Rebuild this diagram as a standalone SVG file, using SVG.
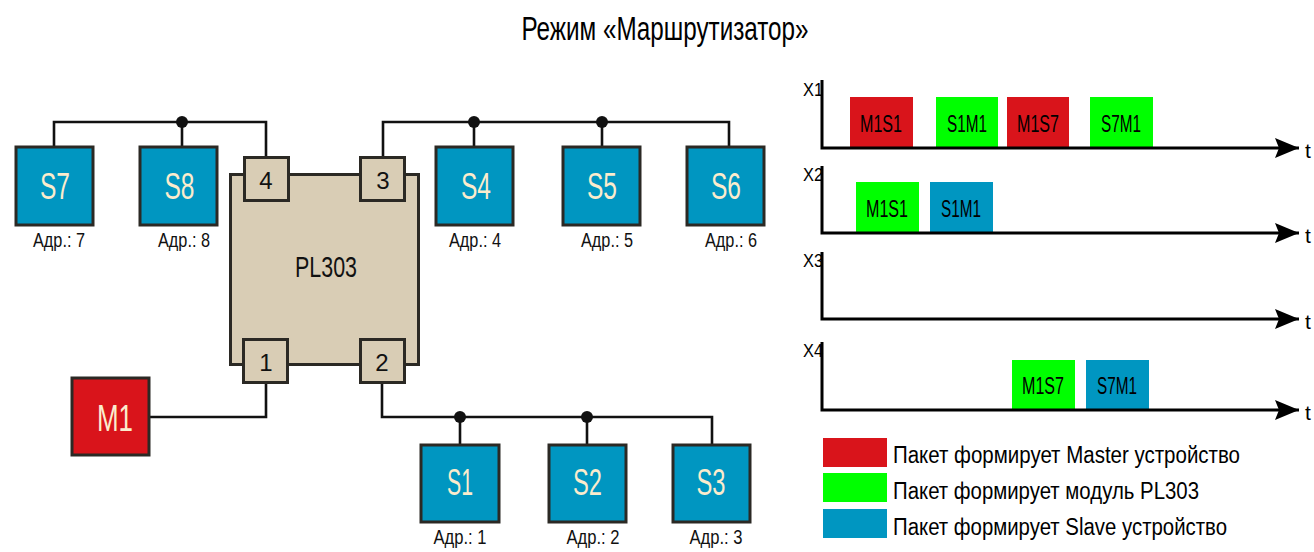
<svg xmlns="http://www.w3.org/2000/svg" width="1314" height="552" viewBox="0 0 1314 552">
<style>
text{font-family:"Liberation Sans",Arial,sans-serif;}
.dev{stroke:#2b2924;stroke-width:3;}
.slave{fill:#0096c1;}
.master{fill:#d9141b;}
.beige{fill:#d9cdb5;stroke:#2b2924;stroke-width:3;}
.lbl{fill:#fbeccd;font-size:37px;text-anchor:middle;}
.adr{fill:#111;font-size:20px;text-anchor:middle;}
.port{fill:#111;font-size:24px;text-anchor:middle;}
.wire{fill:none;stroke:#111;stroke-width:2.6;}
.dot{fill:#111;}
.axis{fill:none;stroke:#000;stroke-width:3;}
.pk{font-size:24px;fill:#000;text-anchor:middle;}
.ax{font-size:18px;fill:#000;}
.tt{font-size:21px;fill:#000;}
.red{fill:#d9141b;}
.grn{fill:#00ff00;}
.blu{fill:#0096c1;}
.leg{font-size:23px;fill:#000;}
</style>
<defs>
<marker id="arr" viewBox="0 0 24 20" refX="24" refY="10" markerWidth="24" markerHeight="20" markerUnits="userSpaceOnUse" orient="auto">
<path d="M0,0 L24,10 L0,20 L4,10 Z" fill="#000"/>
</marker>
</defs>
<text x="665" y="40" font-size="34" text-anchor="middle" textLength="287" lengthAdjust="spacingAndGlyphs" fill="#000">Режим «Маршрутизатор»</text>

<g id="connectors">
<polyline class="wire" points="54,147 54,122 266,122 266,157"/>
<line class="wire" x1="182" y1="122" x2="182" y2="147"/>
<circle class="dot" cx="182" cy="122" r="6"/>
<polyline class="wire" points="383,157 383,122 729,122 729,147"/>
<line class="wire" x1="474" y1="122" x2="474" y2="147"/>
<line class="wire" x1="602" y1="122" x2="602" y2="147"/>
<circle class="dot" cx="474" cy="122" r="6"/>
<circle class="dot" cx="602" cy="122" r="6"/>
<polyline class="wire" points="149,417 266,417 266,383"/>
<polyline class="wire" points="382,383 382,417 712,417 712,445"/>
<line class="wire" x1="460" y1="417" x2="460" y2="445"/>
<line class="wire" x1="587" y1="417" x2="587" y2="445"/>
<circle class="dot" cx="460" cy="417" r="6"/>
<circle class="dot" cx="587" cy="417" r="6"/>
</g>

<g id="PL303">
<rect class="beige" x="230.5" y="174.5" width="188" height="190"/>
<text x="326" y="277" font-size="30" text-anchor="middle" textLength="62" lengthAdjust="spacingAndGlyphs" fill="#111">PL303</text>
</g>
<g id="port4"><rect class="beige" x="244.5" y="157.5" width="44" height="43"/><text class="port" x="266" y="189">4</text></g>
<g id="port3"><rect class="beige" x="360.5" y="157.5" width="44" height="43"/><text class="port" x="383" y="189">3</text></g>
<g id="port1"><rect class="beige" x="243.5" y="339.5" width="44" height="43"/><text class="port" x="266" y="371">1</text></g>
<g id="port2"><rect class="beige" x="360.5" y="339.5" width="44" height="43"/><text class="port" x="382" y="371">2</text></g>

<g id="S7"><rect class="dev slave" x="16" y="147" width="77" height="78"/><text class="lbl" x="55" y="199" textLength="30" lengthAdjust="spacingAndGlyphs">S7</text><text class="adr" x="59" y="247" textLength="52" lengthAdjust="spacingAndGlyphs">Адр.: 7</text></g>
<g id="S8"><rect class="dev slave" x="140" y="147" width="77" height="78"/><text class="lbl" x="179.5" y="199" textLength="30" lengthAdjust="spacingAndGlyphs">S8</text><text class="adr" x="184" y="247" textLength="52" lengthAdjust="spacingAndGlyphs">Адр.: 8</text></g>
<g id="S4"><rect class="dev slave" x="436" y="147" width="77" height="78"/><text class="lbl" x="476" y="199" textLength="30" lengthAdjust="spacingAndGlyphs">S4</text><text class="adr" x="475" y="247" textLength="52" lengthAdjust="spacingAndGlyphs">Адр.: 4</text></g>
<g id="S5"><rect class="dev slave" x="563" y="147" width="77" height="78"/><text class="lbl" x="602" y="199" textLength="30" lengthAdjust="spacingAndGlyphs">S5</text><text class="adr" x="607" y="247" textLength="52" lengthAdjust="spacingAndGlyphs">Адр.: 5</text></g>
<g id="S6"><rect class="dev slave" x="687" y="147" width="77" height="78"/><text class="lbl" x="726" y="199" textLength="30" lengthAdjust="spacingAndGlyphs">S6</text><text class="adr" x="731" y="247" textLength="52" lengthAdjust="spacingAndGlyphs">Адр.: 6</text></g>
<g id="M1"><rect class="dev master" x="72" y="378" width="77" height="77"/><text class="lbl" x="115" y="431" textLength="36" lengthAdjust="spacingAndGlyphs">M1</text></g>
<g id="S1"><rect class="dev slave" x="421" y="445" width="78" height="77"/><text class="lbl" x="460" y="495" textLength="26" lengthAdjust="spacingAndGlyphs">S1</text><text class="adr" x="460" y="544" textLength="53" lengthAdjust="spacingAndGlyphs">Адр.: 1</text></g>
<g id="S2"><rect class="dev slave" x="549" y="445" width="77" height="77"/><text class="lbl" x="587.5" y="495" textLength="29" lengthAdjust="spacingAndGlyphs">S2</text><text class="adr" x="593" y="544" textLength="53" lengthAdjust="spacingAndGlyphs">Адр.: 2</text></g>
<g id="S3"><rect class="dev slave" x="673" y="445" width="77" height="77"/><text class="lbl" x="711" y="495" textLength="29" lengthAdjust="spacingAndGlyphs">S3</text><text class="adr" x="716" y="544" textLength="53" lengthAdjust="spacingAndGlyphs">Адр.: 3</text></g>

<g id="timing">
<g id="X1">
<rect class="red" x="850" y="97" width="63" height="51"/>
<rect class="grn" x="936" y="97" width="62" height="51"/>
<rect class="red" x="1007" y="97" width="62" height="51"/>
<rect class="grn" x="1090" y="97" width="63" height="51"/>
<polyline class="axis" points="822,80 822,148 1299,148" marker-end="url(#arr)"/>
<text class="ax" x="803" y="96" textLength="20" lengthAdjust="spacingAndGlyphs">X1</text>
<text class="tt" x="1305" y="158">t</text>
<text class="pk" x="881" y="132" textLength="42" lengthAdjust="spacingAndGlyphs">M1S1</text>
<text class="pk" x="967" y="132" textLength="40" lengthAdjust="spacingAndGlyphs">S1M1</text>
<text class="pk" x="1038" y="132" textLength="42" lengthAdjust="spacingAndGlyphs">M1S7</text>
<text class="pk" x="1121" y="132" textLength="40" lengthAdjust="spacingAndGlyphs">S7M1</text>
</g>
<g id="X2">
<rect class="grn" x="856" y="182" width="63" height="51"/>
<rect class="blu" x="930" y="182" width="63" height="51"/>
<polyline class="axis" points="822,166 822,233 1299,233" marker-end="url(#arr)"/>
<text class="ax" x="803" y="181" textLength="20" lengthAdjust="spacingAndGlyphs">X2</text>
<text class="tt" x="1305" y="243">t</text>
<text class="pk" x="887" y="217" textLength="42" lengthAdjust="spacingAndGlyphs">M1S1</text>
<text class="pk" x="961" y="217" textLength="40" lengthAdjust="spacingAndGlyphs">S1M1</text>
</g>
<g id="X3">
<polyline class="axis" points="822,252 822,319 1299,319" marker-end="url(#arr)"/>
<text class="ax" x="803" y="267" textLength="20" lengthAdjust="spacingAndGlyphs">X3</text>
<text class="tt" x="1305" y="329">t</text>
</g>
<g id="X4">
<rect class="grn" x="1012" y="360" width="63" height="50"/>
<rect class="blu" x="1086" y="360" width="63" height="50"/>
<polyline class="axis" points="822,342 822,410 1299,410" marker-end="url(#arr)"/>
<text class="ax" x="803" y="357" textLength="20" lengthAdjust="spacingAndGlyphs">X4</text>
<text class="tt" x="1305" y="420">t</text>
<text class="pk" x="1043" y="394" textLength="42" lengthAdjust="spacingAndGlyphs">M1S7</text>
<text class="pk" x="1117" y="394" textLength="40" lengthAdjust="spacingAndGlyphs">S7M1</text>
</g>
</g>

<g id="legend">
<rect class="red" x="823" y="438" width="64" height="29"/>
<rect class="grn" x="823" y="473" width="64" height="29"/>
<rect class="blu" x="823" y="509" width="64" height="29"/>
<text class="leg" x="893" y="463" textLength="347" lengthAdjust="spacingAndGlyphs">Пакет формирует Master устройство</text>
<text class="leg" x="893" y="499" textLength="306" lengthAdjust="spacingAndGlyphs">Пакет формирует модуль PL303</text>
<text class="leg" x="893" y="535" textLength="334" lengthAdjust="spacingAndGlyphs">Пакет формирует Slave устройство</text>
</g>
</svg>
